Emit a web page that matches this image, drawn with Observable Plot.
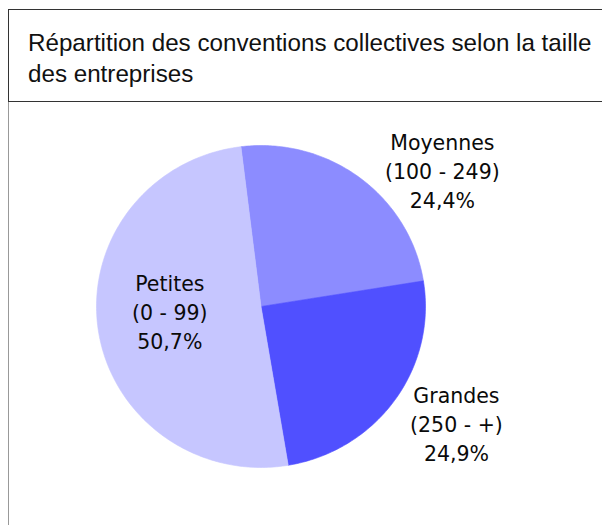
<!DOCTYPE html>
<html><head><meta charset="utf-8">
<script src="https://cdn.jsdelivr.net/npm/d3@7"></script>
<script src="https://cdn.jsdelivr.net/npm/@observablehq/plot@0.6"></script>
<style>
html,body{margin:0;padding:0;background:#fff;overflow:hidden;width:602px;height:525px}
#title{position:absolute;top:9px;left:8px;width:700px;height:93px;box-sizing:border-box;border:1px solid #333;border-right:none;font-family:"Liberation Sans",Arial,sans-serif;font-size:24.2px;line-height:31px;color:#111;padding:17px 0 0 19px;white-space:nowrap}
#chart{position:absolute;top:102px;left:8px;width:594px;height:423px;border-left:1px solid #999}
#chart svg{display:block}
</style></head>
<body>
<div id="title">Répartition des conventions collectives selon la taille<br>des entreprises</div>
<div id="chart"></div>
<script>
// Data
const categories = ["Moyennes", "Grandes", "Petites"];
const ranges = ["(100 - 249)", "(250 - +)", "(0 - 99)"];
const shares = [24.4, 24.9, 50.7];
const colors = ["#8c8cff", "#5050ff", "#c6c6ff"];

// Geometry (angles in degrees, clockwise from north)
const startDeg = -7;
const total = d3.sum(shares);
let acc = startDeg;
const slices = categories.map((c, i) => {
  const a0 = acc;
  const a1 = acc + shares[i] / total * 360;
  acc = a1;
  return {cat: c, a0, a1, mid: (a0 + a1) / 2, i};
});
const rad = d => d * Math.PI / 180;
const points = [];
for (const s of slices) {
  points.push({cat: s.cat, x: 0, y: 0});
  const n = Math.ceil(s.a1 - s.a0);
  for (let k = 0; k <= n; k++) {
    const a = rad(s.a0 + (s.a1 - s.a0) * k / n);
    points.push({cat: s.cat, x: Math.sin(a), y: Math.cos(a)});
  }
  points.push({cat: s.cat, x: 0, y: 0});
}
const fmt = v => v.toFixed(1).replace(".", ",") + "%";
const labels = slices.map(s => {
  const k = s.cat === "Petites" ? 0.56 : 1.38;
  return {
    cat: s.cat,
    text: `${s.cat}\n${ranges[s.i]}\n${fmt(shares[s.i])}`,
    x: k * Math.sin(rad(s.mid)),
    y: k * Math.cos(rad(s.mid))
  };
});
const textOpts = {x: "x", y: "y", text: "text", fontSize: 20.5, lineHeight: 1.42, fill: "#0a0a0a", textAnchor: "middle", lineAnchor: "middle"};
const offsets = {Moyennes: [45, 41], Grandes: [11, -13], Petites: [0, -9]};

const chart = Plot.plot({
  width: 593,
  height: 423,
  margin: 0,
  style: {fontFamily: "DejaVu Sans, Verdana, sans-serif", background: "white"},
  x: {domain: [-1, 1], range: [87, 416], axis: null},
  y: {domain: [-1, 1], range: [365, 43], axis: null},
  color: {domain: categories, range: colors},
  marks: [
    Plot.line(points, {x: "x", y: "y", z: "cat", fill: "cat", stroke: "cat", strokeWidth: 0.6, curve: "linear"}),
    ...categories.map(c => Plot.text(labels.filter(d => d.cat === c), {...textOpts, dx: offsets[c][0], dy: offsets[c][1]}))
  ]
});
document.getElementById("chart").appendChild(chart);
</script>
</body></html>
